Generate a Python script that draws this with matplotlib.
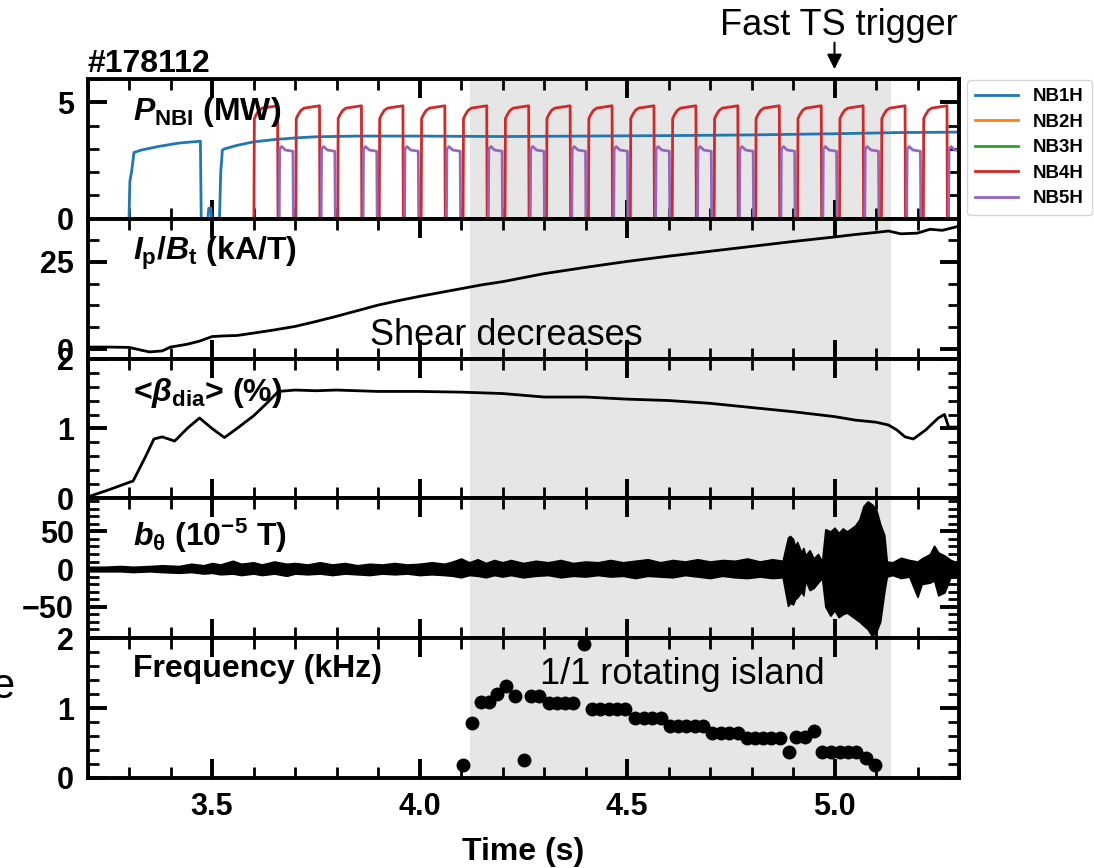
import numpy as np
import matplotlib
matplotlib.use("Agg")
import matplotlib.pyplot as plt
from matplotlib.ticker import MultipleLocator, FormatStrFormatter

plt.rcParams['font.family'] = ['Liberation Sans', 'DejaVu Sans']
plt.rcParams['font.weight'] = 'bold'
plt.rcParams['axes.labelweight'] = 'bold'
plt.rcParams['mathtext.fontset'] = 'custom'
plt.rcParams['mathtext.rm'] = 'Liberation Sans:bold'
plt.rcParams['mathtext.it'] = 'Liberation Sans:bold:italic'
plt.rcParams['mathtext.bf'] = 'Liberation Sans:bold'

# ---- data ----
shot = '#178112'
shade_span = (4.122, 5.135)
trigger_time = 5.0

# NB1H (continuous beam)
nb1_t = [3.20, 3.300, 3.302, 3.306, 3.312, 3.33, 3.37, 3.42, 3.472, 3.474, 3.490, 3.492,
         3.497, 3.499, 3.518, 3.521, 3.525, 3.53, 3.56, 3.60, 3.65, 3.70, 3.75, 3.85,
         4.0, 4.2, 4.4, 4.6, 4.8, 5.0, 5.15, 5.3]
nb1_p = [0, 0, 1.6, 2.0, 2.85, 2.95, 3.1, 3.25, 3.33, 0, 0, 0.45,
         0.45, 0, 0, 2.0, 2.95, 3.0, 3.15, 3.3, 3.4, 3.47, 3.52, 3.55,
         3.55, 3.53, 3.55, 3.57, 3.6, 3.65, 3.7, 3.72]
# NB2H / NB3H stay at zero
nb0_t = [3.2, 5.3]
nb0_p = [0, 0]
# NB4H modulated pulses: switch-on times and pulse shape
nb4_on = [3.601, 3.702, 3.803, 3.903, 4.004, 4.105, 4.206, 4.306, 4.407, 4.508,
          4.609, 4.710, 4.810, 4.911, 5.012, 5.113, 5.214]
nb4_dt = [0, 0.001, 0.005, 0.012, 0.02, 0.057, 0.058]
nb4_lv = [0, 4.3, 4.45, 4.65, 4.75, 4.85, 0]
# NB5H modulated pulses (fill the gaps)
nb5_on = [3.662, 3.763, 3.864, 3.964, 4.065, 4.166, 4.267, 4.367, 4.468, 4.569,
          4.670, 4.771, 4.871, 4.972, 5.073, 5.174, 5.275]
nb5_dt = [0, 0.001, 0.006, 0.015, 0.033, 0.034]
nb5_lv = [0, 3.0, 3.1, 2.95, 2.9, 0]

# Ip/Bt (kA/T)
ip_t = [3.20, 3.25, 3.30, 3.33, 3.35, 3.38, 3.40, 3.44, 3.47, 3.50, 3.53, 3.56, 3.60,
        3.65, 3.70, 3.75, 3.80, 3.85, 3.90, 3.95, 4.00, 4.05, 4.10, 4.15, 4.20, 4.30,
        4.40, 4.50, 4.60, 4.70, 4.80, 4.90, 5.00, 5.05, 5.10, 5.13, 5.16, 5.20, 5.23,
        5.26, 5.30]
ip_v = [0.6, 0.6, 0.5, -0.3, -0.8, -0.5, 0.6, 1.4, 2.3, 3.6, 3.8, 3.9, 4.6,
        5.5, 6.5, 7.9, 9.4, 11.0, 12.6, 13.9, 15.1, 16.2, 17.3, 18.4, 19.3, 21.6,
        23.4, 25.1, 26.6, 28.0, 29.4, 30.8, 32.1, 32.8, 33.4, 33.8, 33.0, 33.2, 34.3,
        34.0, 35.2]

# <beta_dia> (%)
beta_t = [3.20, 3.25, 3.31, 3.34, 3.36, 3.38, 3.41, 3.44, 3.47, 3.50, 3.53, 3.56, 3.60,
          3.63, 3.66, 3.70, 3.75, 3.80, 3.90, 4.00, 4.10, 4.20, 4.30, 4.40, 4.50, 4.60,
          4.70, 4.80, 4.90, 5.00, 5.05, 5.10, 5.13, 5.15, 5.17, 5.19, 5.22, 5.25, 5.265,
          5.275, 5.30]
beta_v = [0.02, 0.12, 0.25, 0.6, 0.85, 0.88, 0.82, 1.0, 1.15, 1.0, 0.87, 1.0, 1.18,
          1.35, 1.53, 1.55, 1.54, 1.55, 1.53, 1.53, 1.52, 1.50, 1.45, 1.45, 1.42, 1.40,
          1.36, 1.30, 1.24, 1.17, 1.12, 1.09, 1.05, 0.98, 0.88, 0.85, 0.98, 1.15, 1.2,
          1.02, 1.02]

# b_theta (1e-5 T): upper / lower envelope of the fluctuation trace
bth_t = [3.20, 3.24, 3.28, 3.31, 3.35, 3.38, 3.42, 3.45, 3.48, 3.50, 3.52, 3.55, 3.57,
         3.60, 3.62, 3.65, 3.68, 3.70, 3.73, 3.76, 3.79, 3.82, 3.85, 3.88, 3.91, 3.94,
         3.97, 4.00, 4.03, 4.06, 4.08, 4.10, 4.12, 4.14, 4.16, 4.18, 4.20, 4.22, 4.25,
         4.28, 4.31, 4.34, 4.37, 4.40, 4.43, 4.46, 4.49, 4.52, 4.55, 4.58, 4.61, 4.64,
         4.67, 4.70, 4.73, 4.76, 4.79, 4.82, 4.85, 4.875, 4.888, 4.893, 4.90, 4.905,
         4.91, 4.92, 4.925, 4.93, 4.94, 4.95, 4.96, 4.97, 4.978, 4.99, 5.00, 5.01, 5.02,
         5.03, 5.04, 5.05, 5.06, 5.07, 5.08, 5.09, 5.10, 5.11, 5.12, 5.126, 5.14, 5.16,
         5.18, 5.20, 5.21, 5.23, 5.24, 5.25, 5.265, 5.28, 5.30]
bth_hi = [3, 3, 4, 3, 4, 5, 4, 7, 5, 8, 6, 11, 7,
          9, 6, 10, 7, 8, 6, 9, 6, 8, 5, 7, 6, 8,
          6, 7, 9, 7, 10, 14, 9, 13, 8, 12, 9, 12, 8,
          11, 9, 12, 8, 10, 9, 12, 9, 11, 13, 9, 12, 10,
          13, 10, 12, 11, 14, 10, 13, 11, 42, 44, 40, 30,
          36, 22, 28, 18, 25, 14, 20, 10, 53, 50, 55, 48, 54,
          50, 54, 58, 66, 84, 90, 86, 80, 60, 45, 10, 9, 15,
          12, 10, 14, 20, 31, 22, 18, 12, 8]
bth_lo = [-3, -3, -3, -4, -3, -4, -5, -4, -6, -5, -7, -6, -8,
          -6, -8, -6, -9, -6, -7, -6, -8, -6, -7, -8, -6, -7,
          -6, -8, -7, -8, -9, -11, -8, -9, -11, -8, -10, -8, -11,
          -9, -8, -11, -9, -10, -8, -10, -9, -12, -9, -10, -11, -8,
          -10, -12, -9, -11, -12, -10, -12, -11, -49, -45, -47, -40,
          -38, -30, -35, -15, -28, -25, -18, -12, -50, -62, -55, -64, -60,
          -58, -62, -66, -70, -75, -80, -89, -84, -70, -30, -10, -8, -12,
          -10, -37, -20, -18, -15, -35, -31, -10, -8]

# 1/1 island frequency (kHz)
f_t = [4.105, 4.127, 4.148, 4.167, 4.186, 4.208, 4.229, 4.251, 4.269, 4.288,
       4.311, 4.331, 4.351, 4.371, 4.396, 4.416, 4.436, 4.456, 4.476, 4.496,
       4.519, 4.541, 4.561, 4.581, 4.603, 4.623, 4.643, 4.664, 4.684, 4.706,
       4.726, 4.746, 4.767, 4.788, 4.808, 4.828, 4.848, 4.869, 4.890, 4.908,
       4.928, 4.951, 4.971, 4.991, 5.013, 5.033, 5.053, 5.077, 5.097]
f_v = [0.19, 0.78, 1.08, 1.08, 1.20, 1.32, 1.17, 0.26, 1.17, 1.17,
       1.07, 1.07, 1.07, 1.07, 1.92, 0.98, 0.98, 0.98, 0.98, 0.98,
       0.86, 0.86, 0.86, 0.86, 0.75, 0.75, 0.75, 0.75, 0.75, 0.64,
       0.64, 0.64, 0.64, 0.57, 0.57, 0.57, 0.57, 0.57, 0.37, 0.59,
       0.59, 0.67, 0.37, 0.37, 0.37, 0.37, 0.37, 0.28, 0.19]


def pulse_train(on_times, dts, levels):
    t, p = [3.2], [0]
    for t0 in on_times:
        for dt, lv in zip(dts, levels):
            t.append(t0 + dt)
            p.append(lv)
    return t, p


nb4_t, nb4_p = pulse_train(nb4_on, nb4_dt, nb4_lv)
nb5_t, nb5_p = pulse_train(nb5_on, nb5_dt, nb5_lv)

fig = plt.figure(figsize=(10.94, 8.68), dpi=100)
gs = fig.add_gridspec(5, 1, left=0.08, right=0.8766, top=0.909, bottom=0.1037, hspace=0)
axs = []
for i in range(5):
    axs.append(fig.add_subplot(gs[i], sharex=axs[0] if axs else None))

for i, ax in enumerate(axs):
    ax.axvspan(*shade_span, color='#e6e6e6', lw=0, zorder=0)
    ax.set_xlim(3.2, 5.3)
    ax.xaxis.set_major_locator(MultipleLocator(0.5))
    ax.xaxis.set_minor_locator(MultipleLocator(0.1))
    ax.xaxis.set_major_formatter(FormatStrFormatter('%.1f'))
    ax.tick_params(which='both', direction='in', top=True, right=True, labelsize=22)
    ax.tick_params(which='major', length=13.7, width=2.8)
    ax.tick_params(which='minor', length=7.9, width=2.0)
    ax.tick_params(axis='x', pad=10)
    ax.tick_params(axis='y', pad=10)
    for s in ax.spines.values():
        s.set_linewidth(2.8)
    if i < 4:
        ax.tick_params(labelbottom=False)

lw = 2.0
# panel 1: NBI power
ax = axs[0]
ax.plot(nb1_t, nb1_p, color='tab:blue', lw=lw, label='NB1H')
ax.plot(nb0_t, nb0_p, color='tab:orange', lw=lw, label='NB2H')
ax.plot(nb0_t, nb0_p, color='tab:green', lw=lw, label='NB3H')
ax.plot(nb4_t, nb4_p, color='tab:red', lw=lw, label='NB4H')
ax.plot(nb5_t, nb5_p, color='tab:purple', lw=lw, label='NB5H')
ax.set_ylim(0, 6)
ax.yaxis.set_major_locator(MultipleLocator(5))
ax.yaxis.set_minor_locator(MultipleLocator(1))
ax.text(0.052, 0.706, r'$P_{\rm NBI}$ (MW)', transform=ax.transAxes, fontsize=23, va='baseline')
ax.text(0.0, 1.05, shot, transform=ax.transAxes, fontsize=23, va='baseline')
ax.annotate('', xy=(trigger_time, 1.05), xytext=(trigger_time, 1.28),
            xycoords=('data', 'axes fraction'), textcoords=('data', 'axes fraction'),
            arrowprops=dict(arrowstyle='-|>', color='k', lw=1.5, mutation_scale=22),
            annotation_clip=False)
ax.text(trigger_time + 0.01, 1.316, 'Fast TS trigger', transform=ax.get_xaxis_transform(),
        fontsize=26, fontweight='normal', ha='center', va='baseline')

# panel 2: Ip/Bt
ax = axs[1]
ax.plot(ip_t, ip_v, color='k', lw=lw)
ax.set_ylim(-2.7, 37.3)
ax.yaxis.set_major_locator(MultipleLocator(25))
ax.yaxis.set_minor_locator(MultipleLocator(6.25))
ax.text(0.052, 0.704, r'$I_{\rm p}/B_{\rm t}$ (kA/T)', transform=ax.transAxes, fontsize=23, va='baseline')
ax.text(0.324, 0.10, 'Shear decreases', transform=ax.transAxes, fontsize=26,
        fontweight='normal', va='baseline')

# panel 3: beta
ax = axs[2]
ax.plot(beta_t, beta_v, color='k', lw=lw)
ax.set_ylim(0, 2)
ax.yaxis.set_major_locator(MultipleLocator(1))
ax.yaxis.set_minor_locator(MultipleLocator(0.2))
ax.text(0.052, 0.695, r'<$\beta_{\rm dia}$> (%)', transform=ax.transAxes, fontsize=23, va='baseline')

# panel 4: b_theta
ax = axs[3]
ax.fill_between(bth_t, bth_lo, bth_hi, color='k', lw=1.2)
ax.set_ylim(-92, 94)
ax.yaxis.set_major_locator(MultipleLocator(50))
ax.yaxis.set_minor_locator(MultipleLocator(10))
ax.text(0.052, 0.661, r'$b_{\rm \theta}$ (10$^{-5}$ T)', transform=ax.transAxes, fontsize=23, va='baseline')

# panel 5: frequency
ax = axs[4]
ax.plot(f_t, f_v, 'o', color='k', ms=9)
ax.set_ylim(0, 2)
ax.yaxis.set_major_locator(MultipleLocator(1))
ax.yaxis.set_minor_locator(MultipleLocator(0.2))
ax.text(0.052, 0.721, 'Frequency (kHz)', transform=ax.transAxes, fontsize=23, va='baseline')
ax.text(0.519, 0.67, '1/1 rotating island', transform=ax.transAxes, fontsize=26,
        fontweight='normal', va='baseline')
ax.set_xlabel('Time (s)', fontsize=23, fontweight='bold', labelpad=11)

fig.legend(*axs[0].get_legend_handles_labels(), loc='upper left',
           bbox_to_anchor=(0.8839, 0.9078), fontsize=13.4, frameon=True, fancybox=True,
           edgecolor='#cccccc', handlelength=2.3, handletextpad=0.8, labelspacing=0.45,
           borderpad=0.45, borderaxespad=0)

fig.text(14 / 1094, 0.196, 'e', fontsize=30, fontweight='normal', ha='right', va='baseline')

fig.savefig('out.png', dpi=100)
